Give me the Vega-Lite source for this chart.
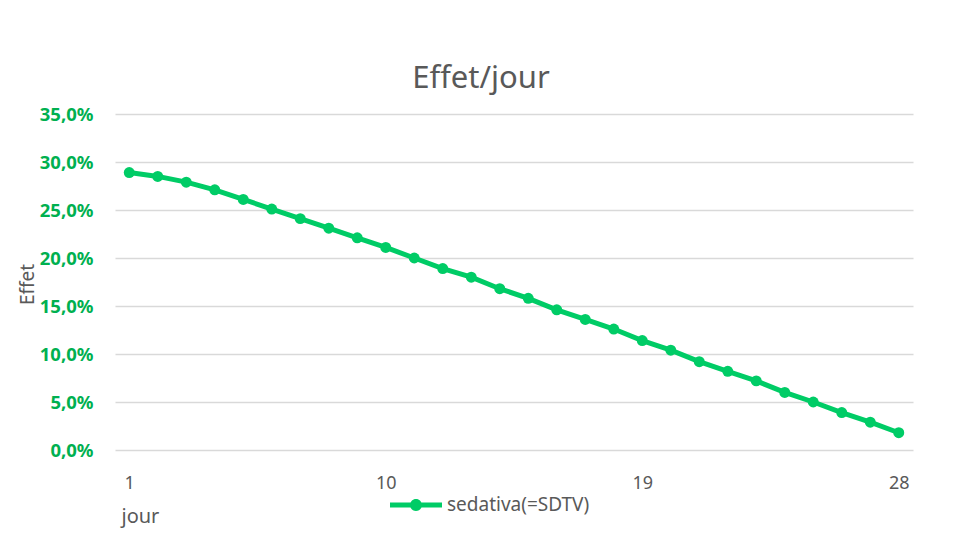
{
  "$schema": "https://vega.github.io/schema/vega-lite/v6.json",
  "autosize": {"type": "none"},
  "padding": {"left": 115, "top": 114, "right": 60, "bottom": 105},
  "width": 798,
  "height": 336,
  "background": "white",
  "config": {"view": {"stroke": null}, "font": "Noto Sans"},
  "title": {"text": "Effet/jour", "font": "Noto Sans", "fontSize": 31, "fontWeight": "normal", "color": "#595959", "anchor": "middle", "dx": -33, "offset": -14, "baseline": "alphabetic"},
  "data": {"values": [
    {"jour": 1, "effet": 0.289, "serie": "sedativa(=SDTV)"},
    {"jour": 2, "effet": 0.285, "serie": "sedativa(=SDTV)"},
    {"jour": 3, "effet": 0.279, "serie": "sedativa(=SDTV)"},
    {"jour": 4, "effet": 0.271, "serie": "sedativa(=SDTV)"},
    {"jour": 5, "effet": 0.261, "serie": "sedativa(=SDTV)"},
    {"jour": 6, "effet": 0.251, "serie": "sedativa(=SDTV)"},
    {"jour": 7, "effet": 0.241, "serie": "sedativa(=SDTV)"},
    {"jour": 8, "effet": 0.231, "serie": "sedativa(=SDTV)"},
    {"jour": 9, "effet": 0.221, "serie": "sedativa(=SDTV)"},
    {"jour": 10, "effet": 0.211, "serie": "sedativa(=SDTV)"},
    {"jour": 11, "effet": 0.200, "serie": "sedativa(=SDTV)"},
    {"jour": 12, "effet": 0.189, "serie": "sedativa(=SDTV)"},
    {"jour": 13, "effet": 0.180, "serie": "sedativa(=SDTV)"},
    {"jour": 14, "effet": 0.168, "serie": "sedativa(=SDTV)"},
    {"jour": 15, "effet": 0.158, "serie": "sedativa(=SDTV)"},
    {"jour": 16, "effet": 0.146, "serie": "sedativa(=SDTV)"},
    {"jour": 17, "effet": 0.136, "serie": "sedativa(=SDTV)"},
    {"jour": 18, "effet": 0.126, "serie": "sedativa(=SDTV)"},
    {"jour": 19, "effet": 0.114, "serie": "sedativa(=SDTV)"},
    {"jour": 20, "effet": 0.104, "serie": "sedativa(=SDTV)"},
    {"jour": 21, "effet": 0.092, "serie": "sedativa(=SDTV)"},
    {"jour": 22, "effet": 0.082, "serie": "sedativa(=SDTV)"},
    {"jour": 23, "effet": 0.072, "serie": "sedativa(=SDTV)"},
    {"jour": 24, "effet": 0.060, "serie": "sedativa(=SDTV)"},
    {"jour": 25, "effet": 0.050, "serie": "sedativa(=SDTV)"},
    {"jour": 26, "effet": 0.039, "serie": "sedativa(=SDTV)"},
    {"jour": 27, "effet": 0.029, "serie": "sedativa(=SDTV)"},
    {"jour": 28, "effet": 0.018, "serie": "sedativa(=SDTV)"}
  ]},
  "encoding": {
    "x": {
      "field": "jour", "type": "quantitative",
      "scale": {"domain": [0.5, 28.5], "nice": false, "zero": false},
      "axis": {
        "title": "jour", "values": [1, 10, 19, 28], "grid": false, "ticks": false, "domain": false,
        "labelFont": "Noto Sans", "labelFontSize": 18, "labelColor": "#595959", "labelPadding": 24,
        "titleFont": "Noto Sans", "titleFontSize": 20, "titleFontWeight": "normal", "titleColor": "#595959",
        "titleX": 6, "titleY": 72, "titleAlign": "left", "titleBaseline": "alphabetic"
      }
    },
    "y": {
      "field": "effet", "type": "quantitative",
      "scale": {"domain": [0, 0.35], "nice": false},
      "axis": {
        "title": "Effet", "values": [0, 0.05, 0.1, 0.15, 0.2, 0.25, 0.3, 0.35],
        "labelExpr": "replace(format(datum.value, '.1%'), '.', ',')",
        "ticks": false, "domain": false, "gridColor": "#D9D9D9", "gridWidth": 1.5,
        "labelFont": "Noto Sans", "labelFontSize": 18.5, "labelFontWeight": "bold", "labelColor": "#00B050", "labelPadding": 22,
        "titleFont": "Noto Sans", "titleFontSize": 19, "titleFontWeight": "normal", "titleColor": "#595959",
        "titleX": -82, "titleY": 170, "titleAngle": -90, "titleAlign": "center", "titleBaseline": "alphabetic"
      }
    },
    "color": {
      "field": "serie", "type": "nominal",
      "scale": {"range": ["#00CC66"]},
      "legend": {
        "title": null, "orient": "none", "legendX": 275, "legendY": 365, "padding": 0,
        "symbolType": "M-1,-0.096H1V0.096H-1Z M0.23,0A0.23,0.23 0 1,1 -0.23,0A0.23,0.23 0 1,1 0.23,0Z",
        "symbolSize": 2704, "symbolFillColor": "#00CC66", "symbolStrokeWidth": 0,
        "labelFont": "Noto Sans", "labelFontSize": 19, "labelColor": "#595959", "labelOffset": 5
      }
    }
  },
  "layer": [
    {"mark": {"type": "line", "strokeWidth": 5}},
    {"mark": {"type": "point", "filled": true, "size": 120, "opacity": 1, "shape": "circle"}}
  ]
}
